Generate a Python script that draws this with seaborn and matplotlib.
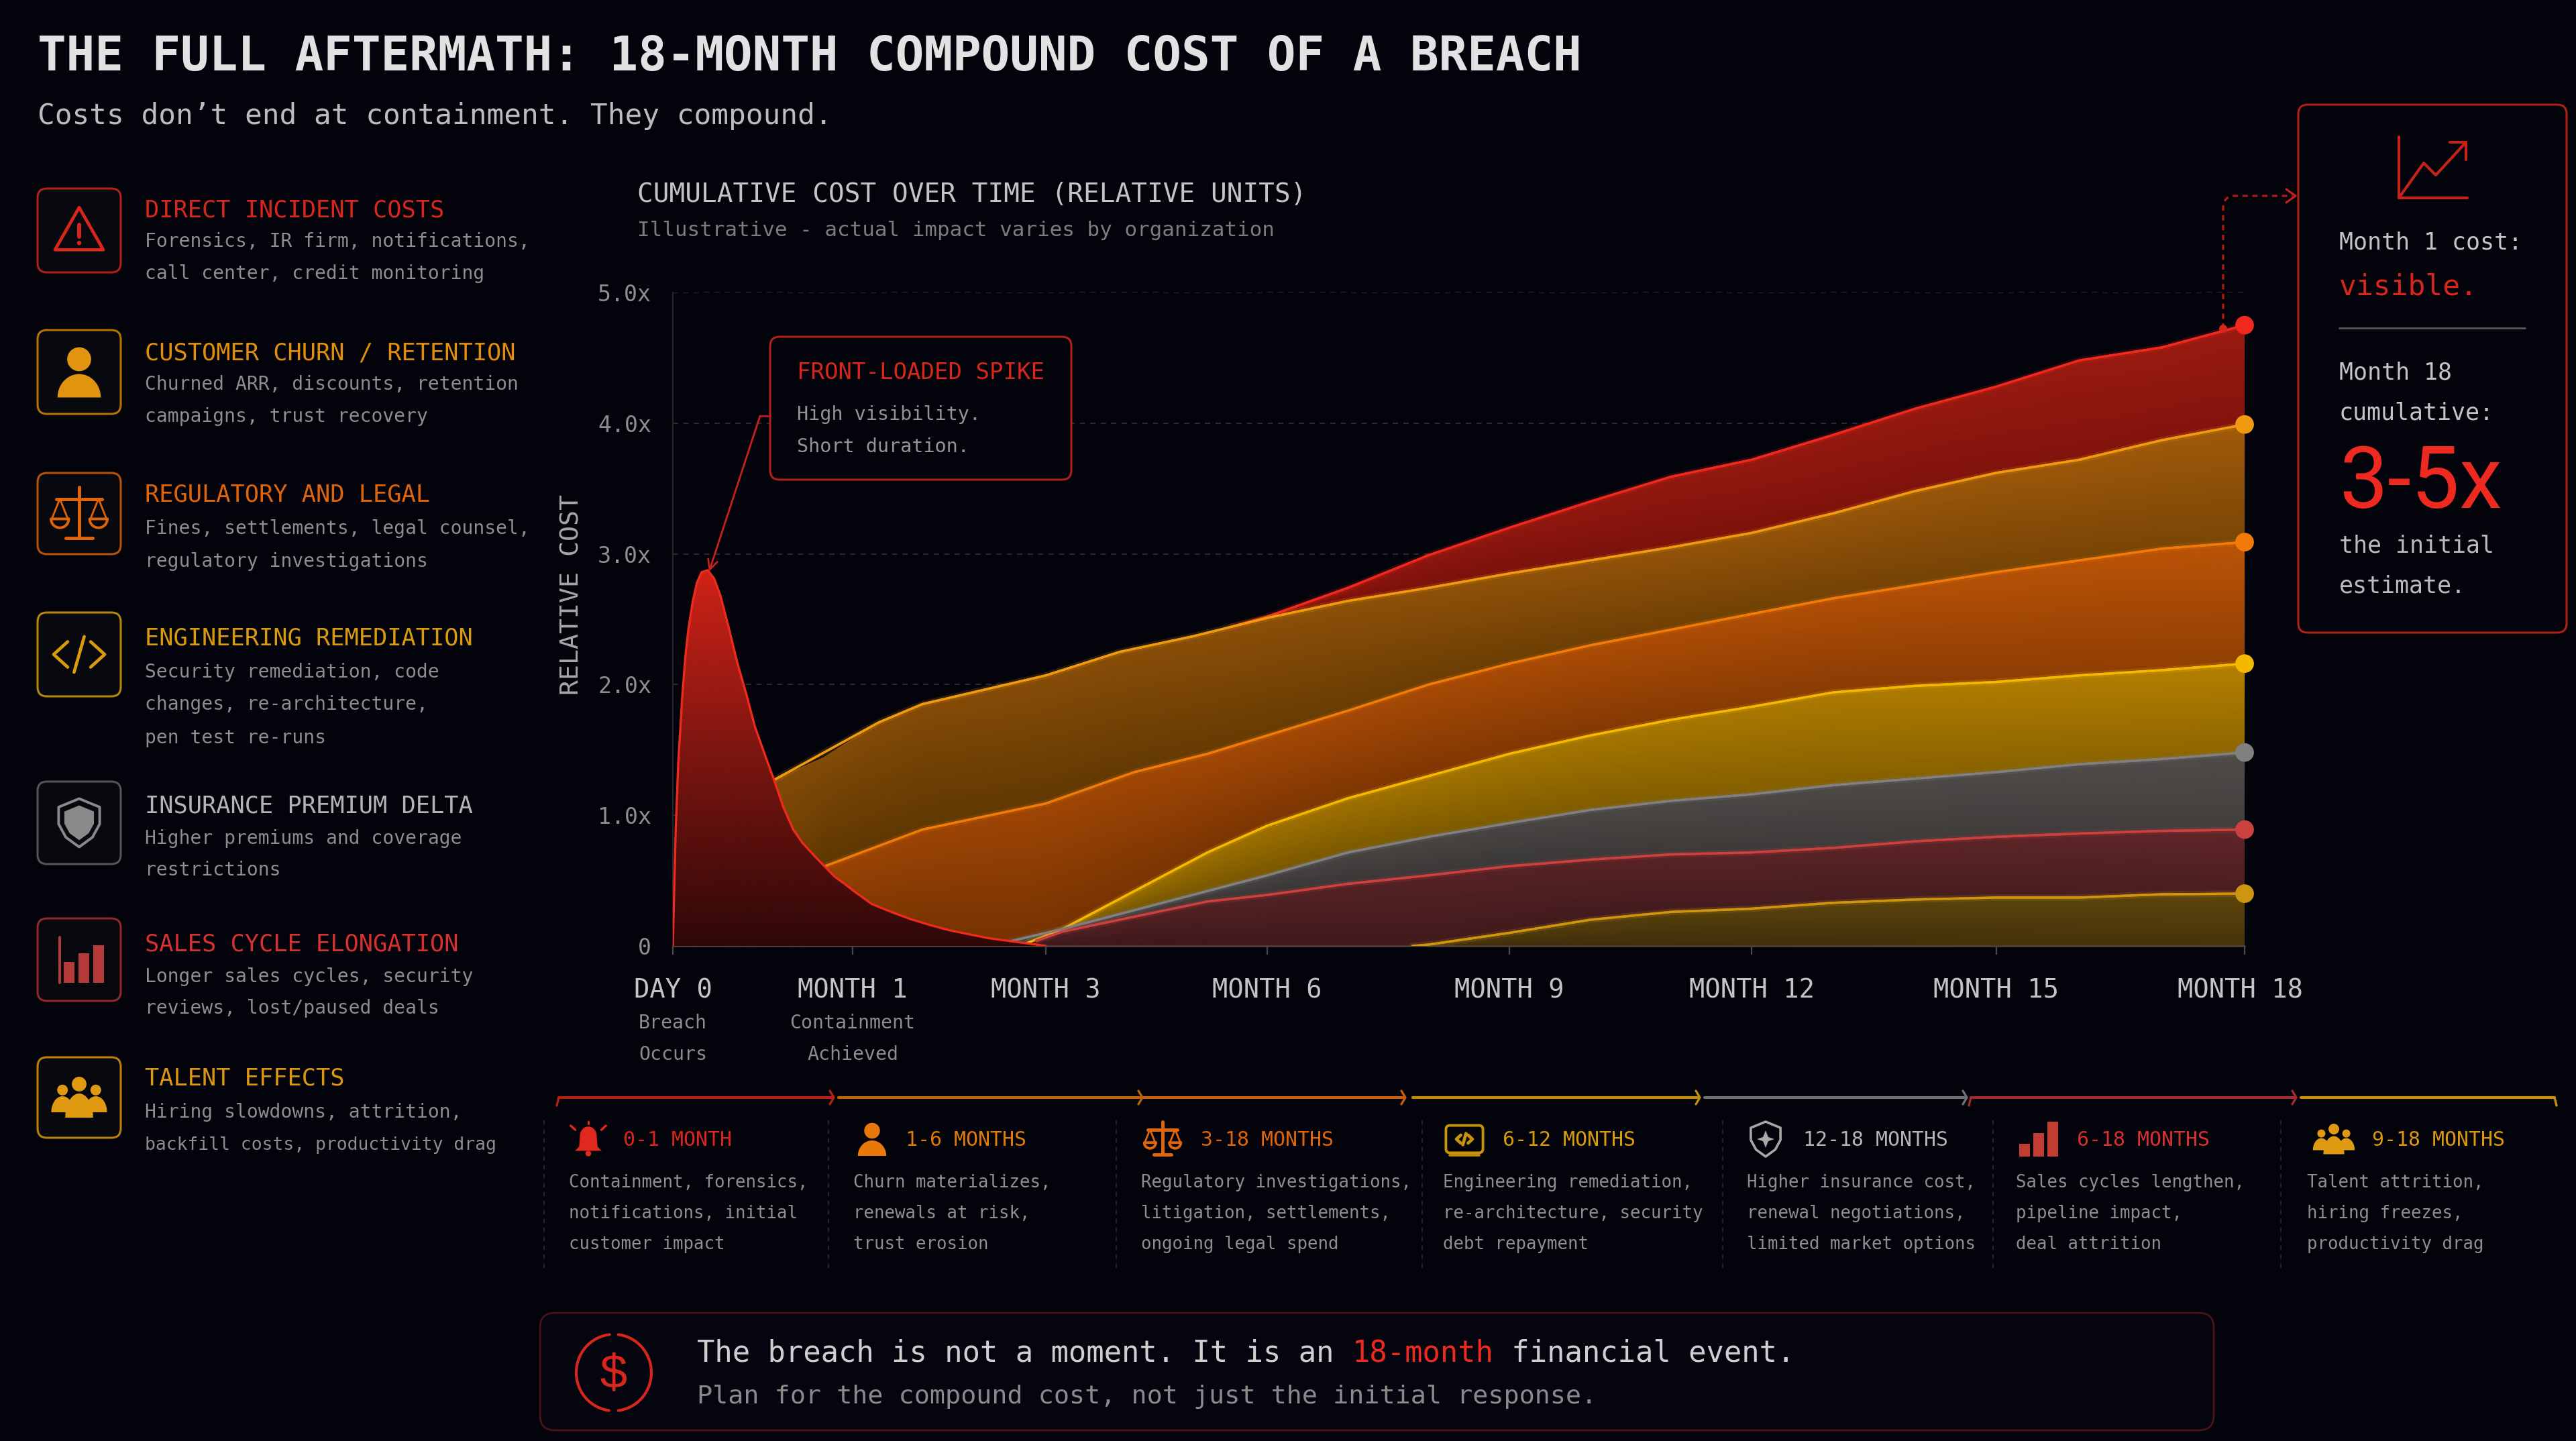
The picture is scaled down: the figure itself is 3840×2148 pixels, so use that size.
import numpy as np
import pandas as pd
import matplotlib
matplotlib.use('Agg')
import matplotlib.pyplot as plt
import matplotlib.patheffects as pe
from matplotlib.colors import LinearSegmentedColormap
from matplotlib.patches import Circle, FancyBboxPatch, Polygon, Rectangle, PathPatch
from matplotlib.path import Path
from matplotlib.transforms import ScaledTranslation
import seaborn as sns

BG = '#02030b'
MONO = 'DejaVu Sans Mono'

# --- chart data ---
tick_months = [0, 1, 3, 6, 9, 12, 15, 18]
tick_spacing = [0, 268, 556, 886, 1247, 1608, 1973, 2343]  # the time axis is not even
tick_labels = ['DAY 0', 'MONTH 1', 'MONTH 3', 'MONTH 6', 'MONTH 9', 'MONTH 12', 'MONTH 15', 'MONTH 18']
ytick_values = [0, 1, 2, 3, 4, 5]
ytick_labels = ['0', '1.0x', '2.0x', '3.0x', '4.0x', '5.0x']

spike_months = [0, 0.008, 0.016, 0.03, 0.053, 0.07, 0.087, 0.11, 0.134, 0.16, 0.194, 0.23, 0.265, 0.31, 0.36,
                0.41, 0.456, 0.51, 0.563, 0.615, 0.67, 0.72, 0.78, 0.836, 0.9, 0.96, 1.03, 1.2, 1.4, 1.6, 1.8,
                2.0, 2.2, 2.4, 2.6, 2.8, 3.0]
spike_cost = [0, 0.45, 0.89, 1.4, 1.92, 2.22, 2.43, 2.63, 2.78, 2.86, 2.875, 2.81, 2.68, 2.44, 2.16,
              1.92, 1.68, 1.47, 1.27, 1.06, 0.89, 0.79, 0.70, 0.62, 0.53, 0.47, 0.41, 0.32, 0.26, 0.205, 0.16,
              0.12, 0.09, 0.06, 0.04, 0.02, 0]

late_months = [6, 7, 8, 9, 10, 11, 12, 13, 14, 15, 16, 17, 18]

total_months = [5.5] + late_months
total_cost = [2.44, 2.52, 2.74, 2.99, 3.2, 3.4, 3.59, 3.72, 3.91, 4.11, 4.28, 4.48, 4.58, 4.75]

churn_months = [0.563, 1.27, 1.72, 3, 4, 5] + late_months
churn_cost = [1.27, 1.71, 1.85, 2.07, 2.25, 2.37, 2.51, 2.64, 2.74, 2.85, 2.95, 3.05, 3.16, 3.31, 3.48, 3.62, 3.72, 3.87, 3.99]

legal_months = [0.836, 1.72, 3, 4.2, 5.19] + late_months
legal_cost = [0.605, 0.89, 1.09, 1.33, 1.47, 1.61, 1.8, 2.0, 2.16, 2.3, 2.42, 2.54, 2.66, 2.76, 2.86, 2.95, 3.04, 3.09]

eng_months = [2.8, 3.23, 5.19] + late_months
eng_cost = [0.02, 0.13, 0.715, 0.92, 1.13, 1.3, 1.47, 1.61, 1.73, 1.83, 1.94, 1.99, 2.02, 2.07, 2.11, 2.16]

insurance_months = [2.6, 3.23, 5.19] + late_months
insurance_cost = [0.03, 0.13, 0.42, 0.54, 0.715, 0.835, 0.94, 1.04, 1.11, 1.16, 1.23, 1.28, 1.33, 1.39, 1.43, 1.48]

sales_months = [2.9, 3.23, 5.19] + late_months
sales_cost = [0.04, 0.11, 0.34, 0.39, 0.475, 0.54, 0.61, 0.66, 0.7, 0.715, 0.75, 0.8, 0.835, 0.86, 0.88, 0.89]

talent_months = [7.8, 8, 9, 10, 11, 12, 13, 14, 15, 16, 17, 18]
talent_cost = [0, 0.01, 0.1, 0.2, 0.26, 0.285, 0.33, 0.355, 0.37, 0.37, 0.395, 0.4]

# name, months, cost, line colour, band dark, band bright (top of the stack first)
layers = [
    ('total', total_months, total_cost, '#f0281e', '#700f0a', '#9a1a10'),
    ('churn', churn_months, churn_cost, '#f09a10', '#5c3602', '#a05a0a'),
    ('legal', legal_months, legal_cost, '#f07a0a', '#703002', '#bb5306'),
    ('eng', eng_months, eng_cost, '#f5b800', '#6e5000', '#b58000'),
    ('insurance', insurance_months, insurance_cost, '#808080', '#343231', '#504c4a'),
    ('sales', sales_months, sales_cost, '#cc4040', '#381719', '#602628'),
    ('talent', talent_months, talent_cost, '#cf950f', '#34260a', '#5e450b'),
]

# --- left legend text ---
legend_heads = ['DIRECT INCIDENT COSTS', 'CUSTOMER CHURN / RETENTION', 'REGULATORY AND LEGAL', 'ENGINEERING REMEDIATION',
                'INSURANCE PREMIUM DELTA', 'SALES CYCLE ELONGATION', 'TALENT EFFECTS']
legend_lines = [
    ['Forensics, IR firm, notifications,', 'call center, credit monitoring'],
    ['Churned ARR, discounts, retention', 'campaigns, trust recovery'],
    ['Fines, settlements, legal counsel,', 'regulatory investigations'],
    ['Security remediation, code', 'changes, re-architecture,', 'pen test re-runs'],
    ['Higher premiums and coverage', 'restrictions'],
    ['Longer sales cycles, security', 'reviews, lost/paused deals'],
    ['Hiring slowdowns, attrition,', 'backfill costs, productivity drag'],
]
legend_colors = ['#d9261c', '#e08e0b', '#e0650a', '#d99a0c', '#b4b4b4', '#d63030', '#dc960f']
legend_edges = ['#b3201a', '#b8720a', '#b8520a', '#b8860b', '#555555', '#8f2a2a', '#b8820b']
legend_box_y = [(281, 406), (492, 617), (705, 826), (913, 1038), (1165, 1288), (1369, 1492), (1576, 1696)]
legend_head_y = [325, 539, 749, 964, 1214, 1420, 1620]
legend_text_y = [[370, 418], [583, 631], [798, 847], [1012, 1060, 1110], [1260, 1307], [1466, 1513], [1668, 1716]]

# --- timeline strip text ---
strip_heads = ['0-1 MONTH', '1-6 MONTHS', '3-18 MONTHS', '6-12 MONTHS', '12-18 MONTHS', '6-18 MONTHS', '9-18 MONTHS']
strip_lines = [
    ['Containment, forensics,', 'notifications, initial', 'customer impact'],
    ['Churn materializes,', 'renewals at risk,', 'trust erosion'],
    ['Regulatory investigations,', 'litigation, settlements,', 'ongoing legal spend'],
    ['Engineering remediation,', 're-architecture, security', 'debt repayment'],
    ['Higher insurance cost,', 'renewal negotiations,', 'limited market options'],
    ['Sales cycles lengthen,', 'pipeline impact,', 'deal attrition'],
    ['Talent attrition,', 'hiring freezes,', 'productivity drag'],
]
strip_colors = ['#d9261c', '#e07a0a', '#e0650a', '#d99a0c', '#b4b4b4', '#d63030', '#dc960f']
strip_lines_col = ['#b81e14', '#c0640a', '#c8600a', '#c08c0a', '#707070', '#a02c2c', '#c8900c']
strip_seg_x = [(833, 1240), (1250, 1700), (1704, 2092), (2106, 2531), (2541, 2929), (2938, 3420), (3430, 3808)]
strip_head_x = [929, 1350, 1790, 2240, 2688, 3096, 3536]
strip_text_x = [848, 1272, 1701, 2151, 2604, 3005, 3439]
strip_icon_x = [877, 1300, 1733, 2183, 2632, 3039, 3479]
strip_div_x = [811, 1235, 1664, 2120, 2568, 2971, 3400]

sns.set_theme(style='dark', rc={'axes.facecolor': 'none', 'figure.facecolor': BG, 'savefig.facecolor': BG,
                                'axes.edgecolor': '#3a3a3e', 'text.color': '#c8c8c8'})
plt.rcParams['font.family'] = [MONO, 'DejaVu Sans']


def pt(char_w):
    # font size for a wanted character advance in pixels (mono font, 100 dpi)
    return char_w / 0.602 * 0.72


fig = plt.figure(figsize=(38.4, 21.48), dpi=100)

# main chart axes
ax = fig.add_axes([1003 / 3840, 1 - 1410 / 2148, 2343 / 3840, 974 / 2148], zorder=1)
ax.set_xscale('function', functions=(lambda m: np.interp(m, tick_months, tick_spacing),
                                     lambda p: np.interp(p, tick_spacing, tick_months)))
ax.set_xlim(0, 18)
ax.set_ylim(0, 5)

# pixel overlay for all the panels and icons
ui = fig.add_axes([0, 0, 1, 1], zorder=2)
ui.set_xlim(0, 3840)
ui.set_ylim(2148, 0)
ui.axis('off')
ui.patch.set_alpha(0)


def put(x, y, s, char_w, color, **kw):
    return ui.text(x, y - 2, s, fontsize=pt(char_w), color=color, va='baseline', family=kw.pop('family', MONO), **kw)


def rbox(x0, y0, x1, y1, ec, fc='none', lw=2.2, r=14, z=3):
    ui.add_patch(FancyBboxPatch((x0 + r, y0 + r), x1 - x0 - 2 * r, y1 - y0 - 2 * r,
                                boxstyle=f'round,pad={r},rounding_size={r}', ec=ec, fc=fc, lw=lw, zorder=z))


# --- bands ---
def band_mesh(xs, lower, upper, dark, bright, zorder=2):
    cmap = LinearSegmentedColormap.from_list('band', [dark, bright])
    t = np.linspace(0, 1, 16)[:, None]
    X = np.repeat(xs[None, :], len(t), axis=0)
    Y = lower + t * (upper - lower)
    shade = 0.55 * t + 0.45 * (X / 18)
    ax.pcolormesh(X, Y, shade, shading='gouraud', cmap=cmap, vmin=0, vmax=1, zorder=zorder)


for i, (name, mo, cost, line_c, dark, bright) in enumerate(layers):
    below = layers[i + 1] if i + 1 < len(layers) else None
    xs = np.array(sorted(set(mo) | (set(below[1]) if below else set())))
    xs = xs[xs >= mo[0]]
    upper = np.interp(xs, mo, cost)
    lower = np.interp(xs, below[1], below[2], left=0) if below else np.zeros_like(xs)
    band_mesh(xs, lower, np.maximum(upper, lower), dark, bright)

# spike sits on top of the left ends of all bands
spike_x = np.array(spike_months)
spike_y = np.array(spike_cost)
spike_map = LinearSegmentedColormap.from_list('spike', ['#2e0808', '#7a1510', '#cf2216'])
t = np.linspace(0, 1, 24)[:, None]
ax.pcolormesh(np.repeat(spike_x[None, :], len(t), axis=0), t * spike_y, t * spike_y, shading='gouraud',
              cmap=spike_map, vmin=0, vmax=2.875, zorder=4)

# --- lines through seaborn ---
line_frames = [pd.DataFrame({'month': m, 'cost': c, 'series': n}) for n, m, c, *_ in layers]
line_df = pd.concat(line_frames, ignore_index=True)
line_colors = {n: c for n, _, _, c, *_ in layers}
before = len(ax.lines)
sns.lineplot(data=line_df, x='month', y='cost', hue='series', palette=line_colors, hue_order=list(line_colors),
             estimator=None, sort=False, errorbar=None, legend=False, linewidth=2.4, ax=ax, zorder=3)
for ln in ax.lines[before:]:
    ln.set_path_effects([pe.withStroke(linewidth=7, foreground=ln.get_color(), alpha=0.16), pe.Normal()])

sns.lineplot(x=spike_months, y=spike_cost, color='#ef2a1c', estimator=None, sort=False, errorbar=None,
             linewidth=2.4, ax=ax, zorder=5)

# right edge of the stack and end dots
end_df = pd.DataFrame({'month': [m[-1] for _, m, *_ in layers], 'cost': [c[-1] for _, _, c, *_ in layers],
                       'series': [n for n, *_ in layers]})
sns.scatterplot(data=end_df, x='month', y='cost', hue='series', palette=line_colors, hue_order=list(line_colors),
                s=400, linewidth=0, legend=False, clip_on=False, zorder=6, ax=ax)

# axes dressing
ax.set_xticks(tick_months)
ax.set_xticklabels(tick_labels, fontsize=pt(23.3), color='#c4c4c4')
ax.minorticks_off()
ax.set_yticks(ytick_values)
ax.set_yticklabels(ytick_labels, fontsize=pt(20), color='#8e8e8e')
ax.tick_params(axis='x', length=9, width=1.6, color='#4a4a4e', pad=25, bottom=True)
ax.tick_params(axis='y', length=0, pad=23)
last_label = ax.get_xticklabels()[-1]
last_label.set_transform(last_label.get_transform() + ScaledTranslation(-0.07, 0, fig.dpi_scale_trans))
ax.set_xlabel('')
ax.set_ylabel('RELATIVE COST', fontsize=pt(23), color='#a8a8a8')
ax.yaxis.set_label_coords(-0.0566, 0.537)
ax.yaxis.grid(True, color='#2c2c30', linestyle=(0, (4, 4)), linewidth=1.4, zorder=0)
ax.xaxis.grid(False)
for side in ['top', 'right']:
    ax.spines[side].set_visible(False)
ax.spines['left'].set_color('#26262a')
ax.spines['left'].set_linewidth(1.6)
ax.spines['bottom'].set_color('#55443a')
ax.spines['bottom'].set_linewidth(1.8)
ax.set_axisbelow(True)

tick_notes = {0: ['Breach', 'Occurs'], 1: ['Containment', 'Achieved']}
for month, notes in tick_notes.items():
    for note, frac in zip(notes, [-0.126, -0.175]):
        ax.text(month, frac, note, transform=ax.get_xaxis_transform(), ha='center', va='baseline',
                fontsize=pt(17), color='#8c8c8c')


# --- icons ---
def seg(points, c, lw=3.2, z=4, **kw):
    xs, ys = zip(*points)
    ui.plot(xs, ys, color=c, lw=lw, solid_capstyle='round', solid_joinstyle='round', zorder=z, **kw)


def hump(cx, top, bottom, half_w, c):
    a = np.linspace(np.pi, 2 * np.pi, 24)
    pts = np.c_[cx + half_w * np.cos(a), bottom + (bottom - top) * np.sin(a)]
    ui.add_patch(Polygon(pts, closed=True, fc=c, ec='none', zorder=4))


def warning_icon(cx, cy, s, c):
    ui.add_patch(Polygon([(cx, cy - s * 0.95), (cx + s, cy + s * 0.8), (cx - s, cy + s * 0.8)], closed=True,
                         fill=False, ec=c, lw=3.4, joinstyle='round', zorder=4))
    seg([(cx, cy - s * 0.25), (cx, cy + s * 0.25)], c, lw=4.2)
    ui.add_patch(Circle((cx, cy + s * 0.52), s * 0.09, fc=c, ec='none', zorder=4))


def person_icon(cx, cy, s, c):
    ui.add_patch(Circle((cx, cy - s * 0.5), s * 0.47, fc=c, ec='none', zorder=4))
    hump(cx, cy + s * 0.08, cy + s, s * 0.85, c)


def scales_icon(cx, cy, s, c):
    seg([(cx, cy - s), (cx, cy + s * 0.9)], c, lw=3.6)
    seg([(cx - s * 0.5, cy + s * 0.9), (cx + s * 0.5, cy + s * 0.9)], c, lw=3.6)
    seg([(cx - s * 0.85, cy - s * 0.55), (cx + s * 0.85, cy - s * 0.55)], c, lw=3.6)
    for d in (-1, 1):
        px = cx + d * s * 0.72
        seg([(px, cy - s * 0.55), (px - s * 0.3, cy + s * 0.2)], c, lw=2)
        seg([(px, cy - s * 0.55), (px + s * 0.3, cy + s * 0.2)], c, lw=2)
        a = np.linspace(0, np.pi, 20)
        seg(list(zip(px + s * 0.33 * np.cos(a), cy + s * 0.2 + s * 0.33 * np.sin(a))) + [(px + s * 0.33, cy + s * 0.2)], c, lw=2.8)


def code_icon(cx, cy, s, c):
    seg([(cx - s * 0.45, cy - s * 0.5), (cx - s, cy), (cx - s * 0.45, cy + s * 0.5)], c, lw=3.4)
    seg([(cx + s * 0.45, cy - s * 0.5), (cx + s, cy), (cx + s * 0.45, cy + s * 0.5)], c, lw=3.4)
    seg([(cx + s * 0.2, cy - s * 0.7), (cx - s * 0.2, cy + s * 0.7)], c, lw=3.4)


def shield_pts(cx, cy, s):
    return [(cx, cy - s), (cx + s * 0.85, cy - s * 0.65), (cx + s * 0.85, cy + s * 0.05), (cx + s * 0.55, cy + s * 0.6),
            (cx, cy + s), (cx - s * 0.55, cy + s * 0.6), (cx - s * 0.85, cy + s * 0.05), (cx - s * 0.85, cy - s * 0.65)]


def shield_icon(cx, cy, s, c):
    ui.add_patch(Polygon(shield_pts(cx, cy, s), closed=True, fill=False, ec=c, lw=2.8, joinstyle='round', zorder=4))
    ui.add_patch(Polygon(shield_pts(cx, cy, s * 0.72), closed=True, fc=c, ec='none', zorder=4))


def bars_icon(cx, cy, s, c):
    seg([(cx - s * 0.85, cy - s), (cx - s * 0.85, cy + s)], c, lw=2.8)
    for dx, top in zip((-0.45, 0.2, 0.85), (0.1, -0.28, -0.62)):
        ui.add_patch(Rectangle((cx + dx * s - s * 0.24, cy + top * s), s * 0.48, (1 - top) * s, fc=c, ec='none', zorder=4))


def people_icon(cx, cy, s, c):
    for dx, r, top, hw in ((-0.62, 0.2, -0.05, 0.42), (0.62, 0.2, -0.05, 0.42)):
        ui.add_patch(Circle((cx + dx * s, cy - s * 0.28), s * r, fc=c, ec='none', zorder=4))
        hump(cx + dx * s, cy + top * s, cy + s * 0.55, s * hw, c)
    ui.add_patch(Circle((cx, cy - s * 0.5), s * 0.3, fc=c, ec=BG, lw=1.5, zorder=5))
    hump(cx, cy - s * 0.15, cy + s * 0.75, s * 0.52, c)


def bell_icon(cx, cy, s, c):
    a = np.linspace(np.pi, 2 * np.pi, 16)
    dome = list(zip(cx + s * 0.5 * np.cos(a), cy - s * 0.2 + s * 0.55 * np.sin(a)))
    ui.add_patch(Polygon(dome + [(cx + s * 0.55, cy + s * 0.45), (cx + s * 0.8, cy + s * 0.7), (cx - s * 0.8, cy + s * 0.7),
                                 (cx - s * 0.55, cy + s * 0.45)], closed=True, fc=c, ec='none', zorder=4))
    ui.add_patch(Circle((cx, cy + s * 0.86), s * 0.17, fc=c, ec='none', zorder=4))
    for d in (-1, 1):
        seg([(cx + d * s * 0.78, cy - s * 0.55), (cx + d * s * 1.05, cy - s * 0.8)], c, lw=2.4)
    seg([(cx, cy - s * 0.92), (cx, cy - s * 1.05)], c, lw=2.4)


def window_icon(cx, cy, s, c):
    rbox(cx - s * 1.15, cy - s * 0.85, cx + s * 1.15, cy + s * 0.85, c, lw=2.8, r=6, z=4)
    seg([(cx - s * 0.9, cy + s * 1.02), (cx + s * 0.9, cy + s * 1.02)], c, lw=2.6)
    code_icon(cx, cy, s * 0.5, c)


def shield_star_icon(cx, cy, s, c):
    ui.add_patch(Polygon(shield_pts(cx, cy, s), closed=True, fill=False, ec=c, lw=2.6, joinstyle='round', zorder=4))
    ui.add_patch(Polygon([(cx, cy - s * 0.5), (cx + s * 0.15, cy - s * 0.12), (cx + s * 0.5, cy), (cx + s * 0.15, cy + s * 0.12),
                          (cx, cy + s * 0.5), (cx - s * 0.15, cy + s * 0.12), (cx - s * 0.5, cy), (cx - s * 0.15, cy - s * 0.12)],
                         closed=True, fc=c, ec='none', zorder=4))


def plain_bars_icon(cx, cy, s, c):
    for dx, top in zip((-0.8, 0, 0.8), (0.25, -0.35, -1)):
        ui.add_patch(Rectangle((cx + dx * s - s * 0.3, cy + top * s), s * 0.6, (1 - top) * s, fc=c, ec='none', zorder=4))


# --- header ---
put(56, 107, 'THE FULL AFTERMATH: 18-MONTH COMPOUND COST OF A BREACH', 42.7, '#e2e2e2', weight='bold')
put(56, 187, 'Costs don\u2019t end at containment. They compound.', 25.7, '#bcbcbc')
put(950, 303, 'CUMULATIVE COST OVER TIME (RELATIVE UNITS)', 23.7, '#c4c4c4')
put(950, 354, 'Illustrative - actual impact varies by organization', 18.7, '#7c7c7c')

# --- left legend ---
legend_icons = [warning_icon, person_icon, scales_icon, code_icon, shield_icon, bars_icon, people_icon]
legend_icon_size = [36, 38, 40, 38, 36, 34, 40]
legend_icon_fill = ['#d9261c', '#e0940f', '#e0650a', '#d99a0c', '#8a8a8a', '#b53a3a', '#e09a12']
for i, head in enumerate(legend_heads):
    y0, y1 = legend_box_y[i]
    rbox(56, y0, 180, y1, legend_edges[i], fc='#08090f')
    legend_icons[i](118, (y0 + y1) / 2, legend_icon_size[i], legend_icon_fill[i])
    put(216, legend_head_y[i], head, 21.3, legend_colors[i])
    for line, y in zip(legend_lines[i], legend_text_y[i]):
        put(216, y, line, 15.9 if line.startswith('backfill') else 16.9, '#8e8e8e')

# --- callout on the spike ---
rbox(1148, 502, 1597, 715, '#b3201a', fc=BG)
put(1188, 567, 'FRONT-LOADED SPIKE', 20.5, '#d9261c')
put(1188, 628, 'High visibility.', 17.2, '#949494')
put(1188, 676, 'Short duration.', 17.2, '#949494')
seg([(1148, 620), (1133, 620)], '#b3201a', lw=2)
ui.annotate('', xy=(1057, 852), xytext=(1133, 620), zorder=6,
            arrowprops=dict(arrowstyle='->', color='#c4221a', lw=2, mutation_scale=26, shrinkA=0, shrinkB=0))

# --- right panel ---
rbox(3426, 156, 3826, 943, '#b3201a', fc=BG)
seg([(3576, 204), (3576, 295), (3678, 295)], '#c4221a', lw=3)
seg([(3576, 295), (3613, 243), (3631, 261), (3676, 212)], '#c4221a', lw=3)
seg([(3652, 212), (3676, 212), (3676, 238)], '#c4221a', lw=3)
put(3487, 374, 'Month 1 cost:', 21, '#c4c4c4')
put(3487, 442, 'visible.', 25.9, '#d9261c')
seg([(3487, 489), (3764, 489)], '#5a5a5a', lw=2)
put(3487, 568, 'Month 18', 21, '#c4c4c4')
put(3487, 627, 'cumulative:', 21, '#c4c4c4')
ui.text(3487, 757, '3-5x', fontsize=128 * 0.72, color='#ee2a20', family='Roboto', va='baseline')
put(3487, 826, 'the initial', 21, '#bcbcbc')
put(3487, 886, 'estimate.', 21, '#bcbcbc')

# dashed link from the last month up to the panel
link = Path([(3314, 490), (3314, 310), (3314, 292), (3332, 292), (3418, 292)],
            [Path.MOVETO, Path.LINETO, Path.CURVE3, Path.CURVE3, Path.LINETO])
ui.add_patch(PathPatch(link, fc='none', ec='#a81c16', lw=2.4, ls=(0, (2.4, 2)), zorder=5))
seg([(3408, 282), (3422, 292), (3408, 302)], '#c4221a', lw=2.2)
ui.add_patch(Circle((3314, 490), 6, fc='#d9261c', ec='none', zorder=7))

# --- timeline strip ---
for i, head in enumerate(strip_heads):
    x0, x1 = strip_seg_x[i]
    c = strip_lines_col[i]
    seg([(x0, 1636), (x1, 1636)], c, lw=3)
    if i == 0 or i == 5:
        seg([(x0, 1636), (x0 - 3, 1648)], c, lw=2.4)
    if i == 6:
        seg([(x1, 1636), (x1 + 3, 1648)], c, lw=2.4)
    else:
        seg([(x1 - 3, 1626), (x1 + 3, 1636), (x1 - 3, 1646)], c, lw=2.4)
    ui.plot([strip_div_x[i]] * 2, [1670, 1895], color='#1f2329', lw=1.6, ls=(0, (3, 3)), zorder=2)
    put(strip_head_x[i], 1710, head, 18, strip_colors[i])
    for line, y in zip(strip_lines[i], [1772, 1818, 1864]):
        put(strip_text_x[i], y, line, 15.5, '#8e8e8e')

strip_icons = [bell_icon, person_icon, scales_icon, window_icon, shield_star_icon, plain_bars_icon, people_icon]
strip_icon_s = [25, 25, 26, 24, 26, 26, 30]
strip_icon_c = ['#e0281e', '#e8780a', '#e0650a', '#c8920a', '#a8a8a8', '#c23c34', '#e09a12']
for draw, x, s, c in zip(strip_icons, strip_icon_x, strip_icon_s, strip_icon_c):
    draw(x, 1698, s, c)

# --- bottom message ---
rbox(805, 1957, 3300, 2132, '#4a1412', fc='#04050e', lw=2, r=22)
for a0, a1 in [(-1.45, 1.45), (1.7, 4.6)]:
    arc = np.linspace(a0, a1, 50)
    seg(list(zip(915 + 56 * np.cos(arc), 2046 + 57 * np.sin(arc))), '#d9261c', lw=3)
put(915, 2070, '$', 44, '#d9261c', ha='center', family='Liberation Mono')

msg_cw = 26.4
msg_parts = [('The breach is not a moment. It is an ', '#cfcfcf'), ('18-month', '#ee2a20'), (' financial event.', '#cfcfcf')]
offset = 0
for part, color in msg_parts:
    put(1039 + offset * msg_cw, 2031, part, msg_cw, color)
    offset += len(part)
put(1039, 2094, 'Plan for the compound cost, not just the initial response.', 23.1, '#8a8a8a')

fig.savefig('out.png', dpi=100)
